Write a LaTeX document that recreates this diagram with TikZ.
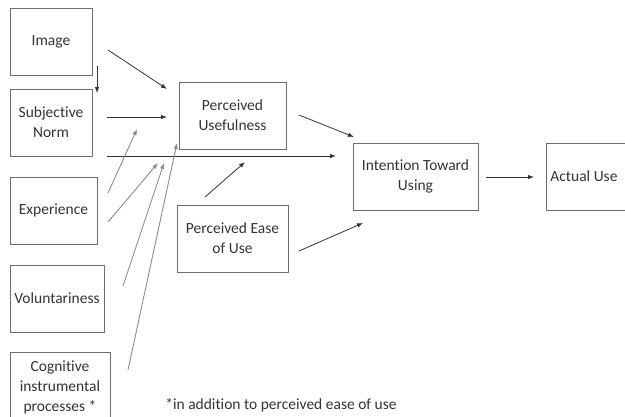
\documentclass[tikz,border=0pt]{standalone}
\usepackage{fontspec}
\setmainfont{Carlito}[RawFeature={-liga;-clig;-calt;-dlig}]
\usetikzlibrary{arrows.meta}
\definecolor{boxline}{HTML}{6E6E6E}
\definecolor{txt}{HTML}{333333}
\definecolor{darkarrow}{HTML}{333333}
\definecolor{lightarrow}{HTML}{8C8C8C}
\tikzset{
  box/.style={draw=boxline, line width=0.9pt, inner sep=0pt, text=txt, align=center,
    font=\fontsize{15.5}{20}\selectfont},
  arr/.style={draw=darkarrow, line width=0.8pt, -{Latex[length=6pt,width=4.5pt]}},
  garr/.style={draw=lightarrow, line width=0.9pt, -{Latex[length=6pt,width=4.5pt]}},
}
\begin{document}
\begin{tikzpicture}[x=1pt,y=-1pt]
\useasboundingbox (0,0) rectangle (625,416);
% boxes, given by their corners
\node[box, minimum width=82pt, minimum height=67pt] (img) at (51,41.5) {Image};
\node[box, minimum width=82pt, minimum height=67pt] (sn) at (51,122.5) {Subjective\\Norm};
\node[box, minimum width=87pt, minimum height=67pt] (exp) at (53.5,210.5) {Experience};
\node[box, minimum width=94pt, minimum height=67pt] (vol) at (57,298.5) {Voluntariness};
\node[box, minimum width=100pt, minimum height=70pt, anchor=north] (cog) at (60,352) {Cognitive\\instrumental\\processes *};
\node[box, minimum width=107pt, minimum height=67pt] (pu) at (232.5,115.5) {Perceived\\Usefulness};
\node[box, minimum width=111pt, minimum height=67pt] (peu) at (232.5,238.5) {Perceived Ease\\of Use};
\node[box, minimum width=125pt, minimum height=67pt] (itu) at (415.5,176.5) {Intention Toward\\Using};
\node[box, minimum width=79pt, minimum height=67pt, anchor=west] (au) at (546,176.5) {Actual Use\hspace*{4pt}};
\node[text=txt, font=\fontsize{15.5}{20}\selectfont] (note) at (281,405) {*in addition to perceived ease of use};

% arrow end points
\coordinate (a1) at (108,50);   \coordinate (b1) at (167,89);
\coordinate (a2) at (97,66);    \coordinate (b2) at (97,93);
\coordinate (a3) at (107,117);  \coordinate (b3) at (167,117);
\coordinate (a4) at (107,156);  \coordinate (b4) at (336,156);
\coordinate (a5) at (108,193);  \coordinate (b5) at (137,129);
\coordinate (a6) at (108,222);  \coordinate (b6) at (158,163);
\coordinate (a7) at (123,286);  \coordinate (b7) at (164,163);
\coordinate (a8) at (128,370);  \coordinate (b8) at (177,143);
\coordinate (a9) at (299,115);  \coordinate (b9) at (354,137);
\coordinate (a10) at (205,197); \coordinate (b10) at (245,162);
\coordinate (a11) at (299,251); \coordinate (b11) at (363,223);
\coordinate (a12) at (486,177); \coordinate (b12) at (534,177);

% connectors
\draw[arr] (a1) -- (b1);
\draw[arr] (a2) -- (b2);
\draw[arr] (a3) -- (b3);
\draw[arr] (a4) -- (b4);
\draw[garr] (a5) -- (b5);
\draw[garr] (a6) -- (b6);
\draw[garr] (a7) -- (b7);
\draw[garr] (a8) -- (b8);
\draw[arr] (a9) -- (b9);
\draw[arr] (a10) -- (b10);
\draw[arr] (a11) -- (b11);
\draw[arr] (a12) -- (b12);
\end{tikzpicture}
\end{document}
